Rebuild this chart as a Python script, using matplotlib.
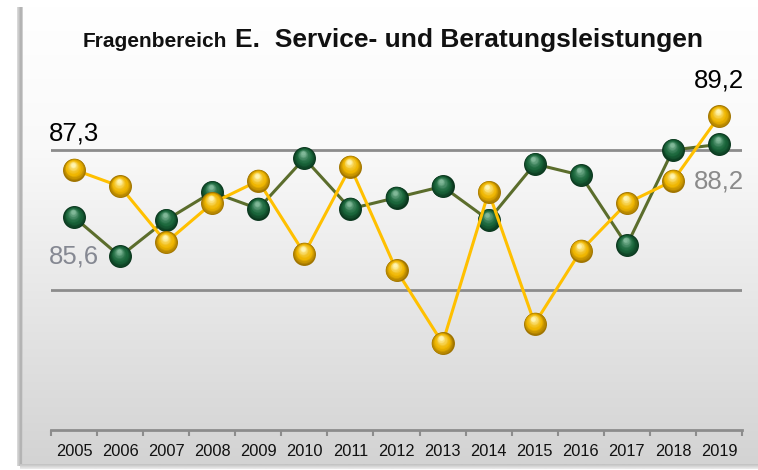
import numpy as np
import matplotlib
matplotlib.use("Agg")
import matplotlib.pyplot as plt
from matplotlib.transforms import offset_copy
from matplotlib.colors import to_rgb

plt.rcParams['font.family'] = ['Liberation Sans', 'DejaVu Sans']

# ---- data ----
years = [str(y) for y in range(2005, 2020)]
green_values = [85.6, 84.2, 85.5, 86.5, 85.9, 87.7, 85.9, 86.3, 86.7, 85.5, 87.5, 87.1, 84.6, 88.0, 88.2]
yellow_values = [87.3, 86.7, 84.7, 86.1, 86.9, 84.3, 87.4, 83.7, 81.1, 86.5, 81.8, 84.4, 86.1, 86.9, 89.2]
gridline_values = [83, 88]
title_small = "Fragenbereich"
title_big = "E.  Service- und Beratungsleistungen"

W, H = 758, 470
fig = plt.figure(figsize=(W / 100, H / 100), dpi=100)
fig.patch.set_facecolor('white')


def mix(c1, c2, t):
    a, b = np.array(to_rgb(c1)), np.array(to_rgb(c2))
    return a + (b - a) * t


# ---- background panel with gradient ----
bg = fig.add_axes([0, 0, 1, 1], zorder=0)
bg.set_xlim(0, W)
bg.set_ylim(H, 0)
bg.axis('off')
rows = np.arange(7, 466)
grad = np.zeros((len(rows), 1, 3))
for i, r in enumerate(rows):
    if r < 150:
        grad[i, 0] = mix('#ffffff', '#f9f9f9', (r - 7) / 143)
    else:
        grad[i, 0] = mix('#f9f9f9', '#d3d3d3', (r - 150) / 315)
bg.imshow(grad, extent=[20, W, 465, 7], aspect='auto', interpolation='bilinear')
# left shadow
sh = np.zeros((1, 6, 3))
for j in range(6):
    sh[0, j] = mix('#d9d9d9', '#9a9a9a', j / 5) if j < 4 else mix('#9a9a9a', '#cfcfcf', (j - 3) / 2)
bg.imshow(sh, extent=[17, 23, 466, 7], aspect='auto', interpolation='bilinear')
# bottom shadow
shb = np.zeros((4, 1, 3))
for j in range(4):
    shb[j, 0] = mix('#c4c4c4', '#e8e8e8', j / 3)
bg.imshow(shb, extent=[20, W, 469, 464], aspect='auto', interpolation='bilinear')

# ---- main axes ----
ax = fig.add_axes([51 / W, 40 / H, 691 / W, 350 / H], zorder=1)
ax.patch.set_alpha(0)
x = np.arange(len(years))
ax.set_xlim(-0.5, len(years) - 0.5)
ax.set_ylim(78, 90.5)
for v in gridline_values:
    ax.axhline(v, color='#8c8c8c', lw=2, zorder=1)
for s in ['top', 'right', 'left']:
    ax.spines[s].set_visible(False)
ax.spines['bottom'].set_color('#8c8c8c')
ax.spines['bottom'].set_linewidth(2)
ax.set_yticks([])
ax.set_xticks(x, years)
ax.tick_params(axis='x', which='major', length=0, pad=10, labelsize=11.8, labelcolor='#111111')
ax.set_xticks(np.arange(-0.5, len(years)), minor=True)
ax.tick_params(axis='x', which='minor', length=4, width=1.5, color='#8c8c8c', direction='out')


def spheres(xs, ys, edge, mid, light, z):
    D = 16.5
    n = 16
    for i in range(n):
        f = i / (n - 1)
        d = D * (1 - 0.82 * f)
        if f < 0.4:
            c = mix(edge, mid, f / 0.4)
        else:
            c = mix(mid, light, ((f - 0.4) / 0.6) ** 1.5)
        tr = offset_copy(ax.transData, fig=fig, x=-0.06 * D * f, y=0.22 * D * f, units='points')
        ax.scatter(xs, ys, s=d ** 2, color=[c], transform=tr, zorder=z,
                   linewidths=0, clip_on=False)


ax.plot(x, green_values, color='#5b6d2c', lw=2.2, zorder=2, clip_on=False)
spheres(x, green_values, '#0a361d', '#1a663b', '#80b898', 3)
ax.plot(x, yellow_values, color='#ffc000', lw=2.2, zorder=4, clip_on=False)
spheres(x, yellow_values, '#a07400', '#efb600', '#fff4b0', 5)


def fmt(v):
    return f"{v:.1f}".replace('.', ',')


ax.annotate(fmt(yellow_values[0]), (x[0], yellow_values[0]), xytext=(0, 36),
            textcoords='offset pixels', ha='center', va='center', fontsize=18.5, color='#000000')
ax.annotate(fmt(green_values[0]), (x[0], green_values[0]), xytext=(0, -39),
            textcoords='offset pixels', ha='center', va='center', fontsize=18.5, color='#858892')
ax.annotate(fmt(yellow_values[-1]), (x[-1], yellow_values[-1]), xytext=(0, 36),
            textcoords='offset pixels', ha='center', va='center', fontsize=18.5, color='#000000')
ax.annotate(fmt(green_values[-1]), (x[-1], green_values[-1]), xytext=(0, -37),
            textcoords='offset pixels', ha='center', va='center', fontsize=18.5, color='#8a8a8a')

# ---- title ----
t1 = fig.text(83 / W, 1 - 47 / H, title_small, fontsize=15, weight='bold', va='baseline', color='#111111')
fig.canvas.draw()
bb = t1.get_window_extent(renderer=fig.canvas.get_renderer())
t2 = fig.text((bb.x1 + 8) / W, 1 - 47 / H, title_big, fontsize=19, weight='bold', va='baseline', color='#111111')

fig.savefig('out.png', dpi=100)
